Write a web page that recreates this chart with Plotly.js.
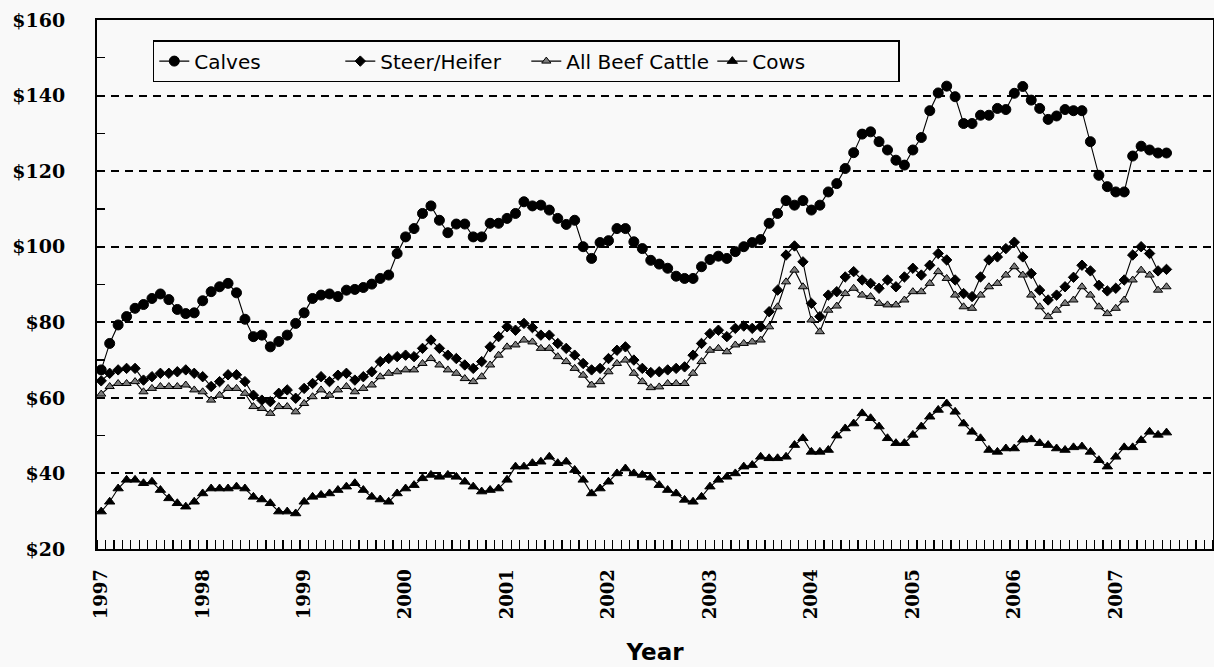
<!DOCTYPE html>
<html>
<head>
<meta charset="utf-8">
<script src="https://cdn.plot.ly/plotly-3.0.1.min.js"></script>
<style>
  html, body { margin: 0; padding: 0; background: #f9f9f9; }
  #chart { width: 1214px; height: 667px; }
</style>
</head>
<body>
<div id="chart"></div>
<script>
// Monthly prices, Jan 1997 - Jul 2007 ($ per cwt)
const yearLabels = ['1997','1998','1999','2000','2001','2002','2003','2004','2005','2006','2007'];
const monthsPerYear = 12;

const calves = [
  67.4,74.4,79.3,81.5,83.7,84.7,86.3,87.5,86.0,83.4,82.3,82.5,
  85.7,88.1,89.4,90.3,87.8,80.8,76.2,76.6,73.5,74.9,76.6,79.7,
  82.5,86.3,87.2,87.5,86.8,88.5,88.7,89.2,90.1,91.6,92.5,98.2,
  102.6,104.8,108.8,110.8,107.0,103.7,106.0,106.0,102.6,102.6,106.2,106.2,
  107.5,108.8,111.9,110.8,111.0,109.7,107.5,105.9,107.0,100.0,96.9,101.1,
  101.6,104.8,104.8,101.3,99.5,96.4,95.4,94.3,92.2,91.6,91.6,94.7,
  96.6,97.5,96.9,98.7,100.0,101.1,101.9,106.2,108.8,112.2,111.0,112.2,
  109.7,111.0,114.5,116.7,120.7,124.9,129.8,130.4,127.8,125.6,122.9,121.6,
  125.6,128.9,136.0,140.7,142.5,139.7,132.6,132.6,134.8,134.8,136.6,136.3,
  140.6,142.4,138.8,136.6,133.7,134.6,136.3,136.0,136.0,127.8,118.9,115.9,
  114.5,114.5,124.0,126.6,125.6,124.8,124.8
];
const steerHeifer = [
  64.5,66.5,67.4,67.8,67.8,64.7,65.6,66.5,66.5,66.9,67.4,66.5,
  65.6,63.0,64.3,66.1,66.1,64.3,60.7,59.4,59.0,61.2,62.1,59.9,
  62.5,63.8,65.6,64.3,66.0,66.5,64.7,65.6,66.9,69.6,70.4,70.9,
  71.3,70.9,73.1,75.3,73.1,71.3,70.4,68.7,67.8,69.6,73.5,76.2,
  78.8,77.9,79.7,78.6,76.6,76.6,74.4,73.1,71.3,69.1,67.4,67.8,
  70.4,72.6,73.5,70.0,67.8,66.7,66.9,67.4,67.8,68.2,71.3,74.4,
  77.0,77.9,76.2,78.4,79.0,78.4,78.8,82.8,88.5,97.8,100.2,96.0,
  85.0,81.5,87.2,88.1,92.0,93.4,91.2,90.3,89.0,91.2,89.4,92.0,
  94.3,92.5,95.1,98.2,96.5,91.2,87.6,86.8,92.0,96.5,97.3,99.5,
  101.2,97.3,92.9,88.5,85.9,87.2,89.4,91.9,95.1,93.6,89.8,88.3,
  89.0,91.2,97.8,100.0,98.2,93.6,94.0
];
const allBeefCattle = [
  61.0,63.0,63.8,63.8,64.3,61.6,62.5,63.0,63.0,63.0,63.4,62.1,
  61.6,59.4,60.7,62.5,62.5,61.2,57.7,57.2,55.9,57.7,57.7,56.3,
  58.5,60.3,62.1,60.7,62.1,63.0,61.6,62.5,63.4,65.6,66.5,66.9,
  67.4,67.4,69.1,70.4,68.7,67.4,66.5,65.1,64.3,65.6,68.7,71.3,
  73.5,74.0,75.3,74.8,73.1,73.1,70.9,69.6,67.8,66.0,63.4,64.3,
  66.9,69.1,70.0,66.5,64.3,62.7,62.9,63.8,63.8,63.8,66.5,69.6,
  72.6,73.1,72.2,74.0,74.4,74.8,75.3,78.8,84.1,90.7,93.8,89.4,
  80.6,77.5,83.2,84.3,87.6,89.0,87.2,86.8,85.0,84.6,84.6,85.9,
  88.1,88.1,90.3,93.4,91.6,87.2,84.1,83.7,87.2,89.4,90.3,92.5,
  94.7,92.5,87.2,84.1,81.5,83.2,85.0,85.9,89.4,87.2,84.1,82.3,
  83.7,85.9,91.2,93.8,92.5,88.5,89.4
];
const cows = [
  29.9,32.5,36.0,38.3,38.3,37.4,37.8,35.6,33.4,32.1,31.2,32.5,
  34.7,36.0,36.0,36.0,36.5,36.0,33.8,33.1,32.1,29.9,29.9,29.4,
  32.5,33.8,34.3,34.7,35.6,36.5,37.4,35.6,33.8,33.1,32.5,34.7,
  36.0,36.9,38.7,39.6,39.1,39.6,39.1,37.8,36.5,35.2,35.6,36.0,
  38.3,41.8,41.8,42.7,43.1,44.4,42.7,43.1,40.9,38.3,34.7,36.0,
  37.8,40.0,41.3,40.0,39.6,38.9,36.9,35.6,34.7,33.0,32.5,33.8,
  36.5,38.3,39.1,40.0,41.8,42.2,44.4,44.0,44.0,44.4,47.5,49.3,
  45.7,45.7,46.2,50.0,51.9,53.2,55.9,54.6,52.4,49.3,48.0,48.0,
  50.2,52.4,55.0,56.8,58.5,56.3,53.2,51.0,49.3,46.2,45.7,46.6,
  46.6,48.9,49.0,48.0,47.5,46.6,46.2,46.9,47.1,45.7,43.5,41.8,
  44.4,46.9,46.9,48.8,51.0,50.2,50.8
];

const yTicks = [20, 40, 60, 80, 100, 120, 140, 160];
const yTickText = yTicks.map(v => '$' + v);

// month index positions (category slots) for the x axis
const nSlots = yearLabels.length * monthsPerYear;          // Jan 1997 .. Dec 2007
const xIdx = calves.map((_, i) => i);
const yearPos = yearLabels.map((_, k) => k * monthsPerYear);
const monthBounds = Array.from({length: nSlots + 1}, (_, i) => i - 0.5);

const lineStyle = {color: '#000000', width: 1.1};
const traces = [
  {name: 'Calves', y: calves,
   marker: {symbol: 'circle', size: 10, color: '#000000', line: {color: '#000000', width: 1}}},
  {name: 'Steer/Heifer', y: steerHeifer,
   marker: {symbol: 'diamond', size: 8, color: '#000000', line: {color: '#000000', width: 1}}},
  {name: 'All Beef Cattle', y: allBeefCattle,
   marker: {symbol: 'triangle-up', size: 8, color: '#7a7a7a', line: {color: '#000000', width: 1}}},
  {name: 'Cows', y: cows,
   marker: {symbol: 'triangle-up', size: 9, color: '#000000', line: {color: '#000000', width: 1}}}
].map(t => Object.assign({type: 'scatter', mode: 'lines+markers', x: xIdx, line: lineStyle, hoverinfo: 'y+name'}, t));

const bg = '#f9f9f9';
const layout = {
  width: 1214, height: 667,
  paper_bgcolor: bg, plot_bgcolor: bg,
  margin: {l: 97, r: 1, t: 20, b: 118},
  showlegend: true,
  legend: {
    orientation: 'h', x: 0.05, y: 0.962, xanchor: 'left', yanchor: 'top',
    bgcolor: bg, bordercolor: '#000000', borderwidth: 1.5,
    font: {family: 'DejaVu Sans, sans-serif', size: 20, color: '#000000'},
    itemwidth: 30, entrywidthmode: 'pixels', entrywidth: 141
  },
  xaxis: {
    range: [-0.5, nSlots - 0.5],
    tickmode: 'array', tickvals: yearPos, ticktext: yearLabels,
    tickangle: -90, ticks: '', ticklabelstandoff: 11,
    tickfont: {family: 'DejaVu Serif, serif', size: 18, color: '#000000', weight: 'bold'},
    minor: {tickmode: 'array', tickvals: monthBounds, ticks: 'inside', ticklen: 9, tickwidth: 1.3, tickcolor: '#000000', showgrid: false},
    showgrid: false, zeroline: false,
    showline: true, linecolor: '#000000', linewidth: 2, mirror: true,
    title: {text: 'Year', standoff: 26, font: {family: 'DejaVu Sans, sans-serif', size: 23, color: '#000000', weight: 'bold'}}
  },
  yaxis: {
    range: [20, 160],
    tickmode: 'array', tickvals: yTicks, ticktext: yTickText,
    ticks: 'inside', ticklen: 8, tickwidth: 1.3, tickcolor: '#000000',
    ticklabelstandoff: 26,
    tickfont: {family: 'DejaVu Serif, serif', size: 19, color: '#000000', weight: 'bold'},
    minor: {dtick: 10, tick0: 20, ticks: 'inside', ticklen: 8, tickwidth: 1.3, tickcolor: '#000000', showgrid: false},
    showgrid: true, gridcolor: '#000000', gridwidth: 2, griddash: '8px,6px',
    zeroline: false,
    showline: true, linecolor: '#000000', linewidth: 2, mirror: true
  }
};

Plotly.newPlot('chart', traces, layout, {displayModeBar: false, staticPlot: true});
</script>
</body>
</html>
